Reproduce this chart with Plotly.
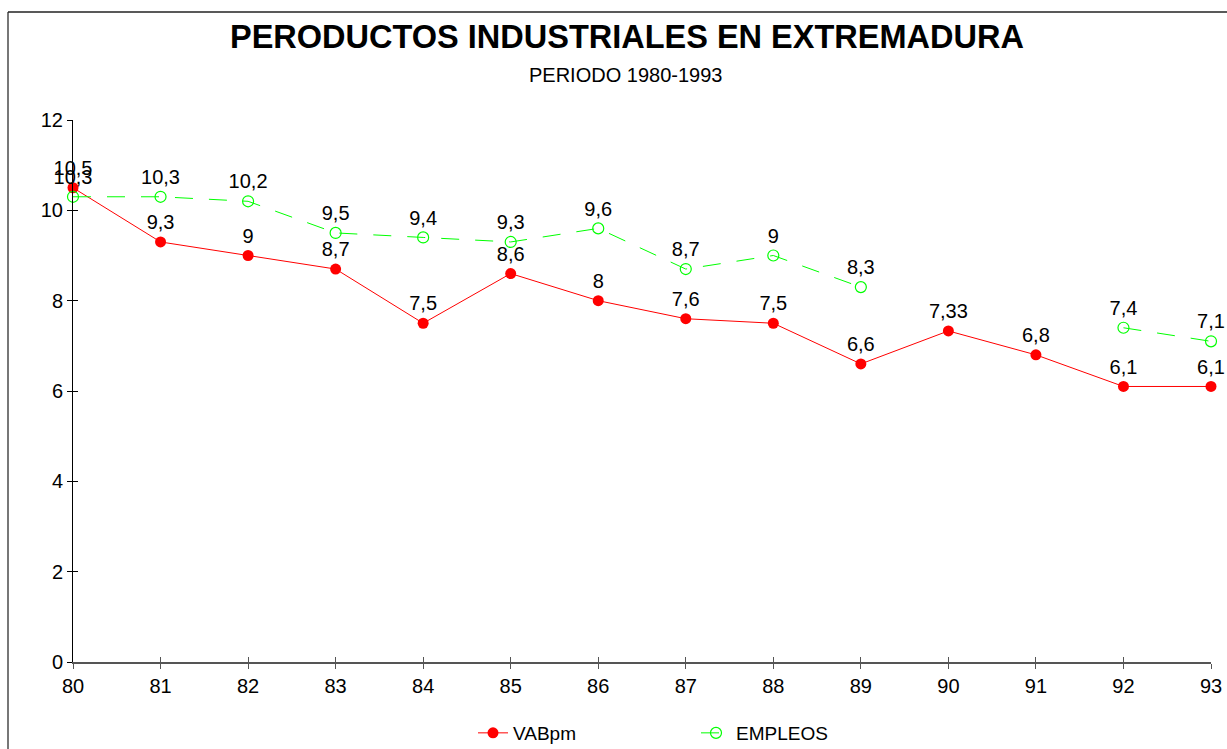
import plotly.graph_objects as go

years = [80, 81, 82, 83, 84, 85, 86, 87, 88, 89, 90, 91, 92, 93]
vab = [10.5, 9.3, 9, 8.7, 7.5, 8.6, 8, 7.6, 7.5, 6.6, 7.33, 6.8, 6.1, 6.1]
empleos = [10.3, 10.3, 10.2, 9.5, 9.4, 9.3, 9.6, 8.7, 9, 8.3, None, None, 7.4, 7.1]
y_ticks = [0, 2, 4, 6, 8, 10, 12]


def lab(v):
    return "" if v is None else ("%g" % v).replace(".", ",")


FONT = "Liberation Sans, Arial, sans-serif"

fig = go.Figure()
fig.add_trace(go.Scatter(
    x=years, y=vab, name="VABpm", mode="lines+markers+text",
    text=[lab(v) for v in vab], textposition="top center",
    textfont=dict(size=20, color="black", family=FONT),
    line=dict(color="#ff0000", width=1),
    marker=dict(color="#ff0000", size=11, symbol="circle"),
))
fig.add_trace(go.Scatter(
    x=years, y=empleos, name="EMPLEOS", mode="lines+markers+text",
    text=[lab(v) for v in empleos], textposition="top center",
    textfont=dict(size=20, color="black", family=FONT),
    line=dict(color="#00ff00", width=1, dash="18px,16px"),
    marker=dict(color="#00ff00", size=11, symbol="circle-open", line=dict(width=1.2)),
    connectgaps=False,
))

L, R, T, B = 73, 16, 120, 87
W, H = 1227, 749
pw = W - L - R
ph = H - T - B
x0p = (8 - L) / pw
y0p = (H - B - 12) / ph

fig.update_layout(
    width=W, height=H,
    margin=dict(l=L, r=R, t=T, b=B, autoexpand=False),
    paper_bgcolor="white", plot_bgcolor="white",
    font=dict(family=FONT, color="black"),
    xaxis=dict(
        range=[80, 93], tickvals=years, ticktext=[str(y) for y in years],
        showgrid=False, zeroline=False, showline=True, linecolor="#555555", linewidth=1.5,
        ticks="outside", ticklen=5, tickcolor="#555555", automargin=False,
        tickfont=dict(size=20, color="black"),
    ),
    yaxis=dict(
        range=[0, 12], tickvals=y_ticks, showgrid=False, zeroline=False,
        showline=True, linecolor="black", linewidth=1,
        ticks="outside", ticklen=5, tickcolor="black", automargin=False,
        tickfont=dict(size=20, color="black"),
    ),
    xaxis2=dict(
        overlaying="x", matches="x", range=[80, 93], tickvals=years, showticklabels=False,
        showgrid=False, zeroline=False, showline=False, side="bottom", anchor="y",
        ticks="inside", ticklen=5, tickcolor="#555555", automargin=False,
    ),
    yaxis2=dict(
        overlaying="y", range=[0, 12], tickvals=y_ticks, showticklabels=False,
        showgrid=False, zeroline=False, showline=False, side="left", anchor="x",
        ticks="inside", ticklen=5, tickcolor="black", automargin=False,
    ),
    legend=dict(
        orientation="h", x=(473 - L) / pw, xanchor="left", y=-0.131, yanchor="middle",
        font=dict(size=19, color="black"), entrywidth=178, entrywidthmode="pixels",
        traceorder="normal",
    ),
    showlegend=True,
)

fig.add_trace(go.Scatter(x=[None], y=[None], xaxis="x2", yaxis="y2",
                         showlegend=False, hoverinfo="skip"))

fig.add_annotation(
    text="<b>PERODUCTOS INDUSTRIALES EN EXTREMADURA</b>", xref="paper", yref="paper",
    x=(627 - L) / pw, y=(H - B - 37) / ph, xanchor="center", yanchor="middle",
    showarrow=False, font=dict(size=32.5, color="black", family=FONT),
)
fig.add_annotation(
    text="PERIODO 1980-1993", xref="paper", yref="paper",
    x=(625 - L) / pw, y=(H - B - 75) / ph, xanchor="center", yanchor="middle",
    showarrow=False, font=dict(size=20, color="black", family=FONT),
)

fig.add_shape(type="line", xref="paper", yref="paper", x0=x0p, x1=x0p, y0=-0.5, y1=y0p,
              line=dict(color="#777777", width=2))
fig.add_shape(type="line", xref="paper", yref="paper", x0=x0p, x1=1.5, y0=y0p, y1=y0p,
              line=dict(color="#222222", width=1.5))

fig.update_traces(cliponaxis=False)
fig.write_html("out.html", config={"displayModeBar": False},
               post_script="document.body.style.margin='0';document.body.style.overflow='hidden';")
